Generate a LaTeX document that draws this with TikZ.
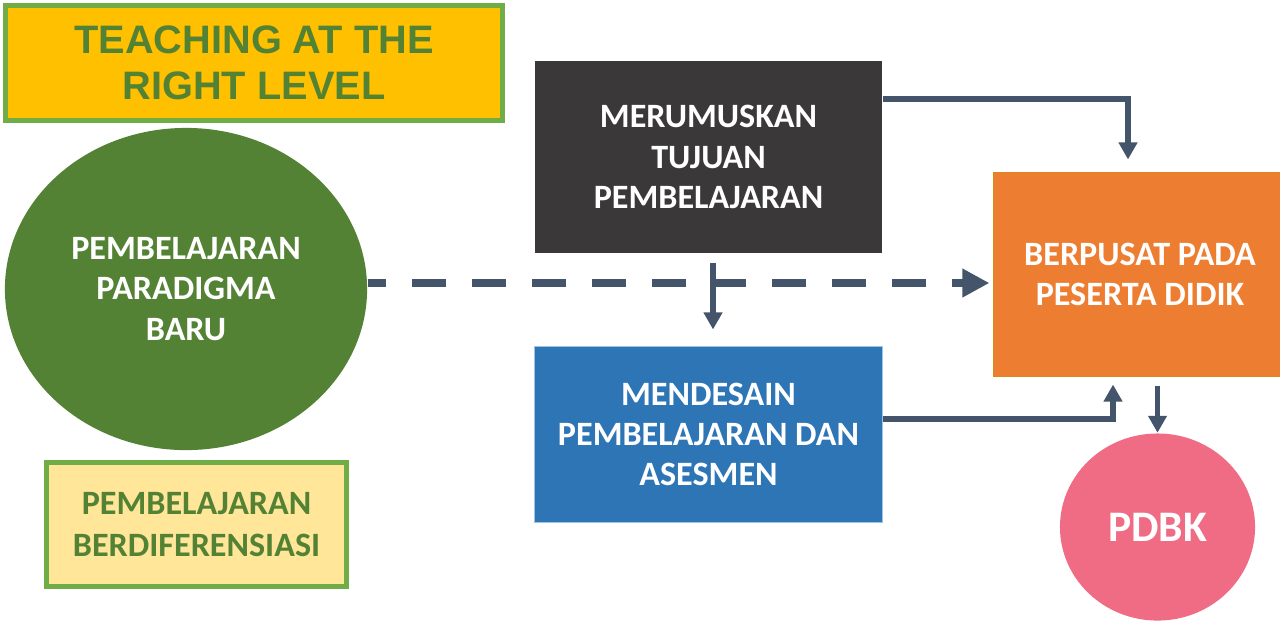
\documentclass[tikz,border=0pt]{standalone}
\usepackage{fontspec}
\setmainfont{Carlito}
\newfontfamily\titlefont{Liberation Sans}
\usepackage[]{xcolor}
\usepackage[]{tikz}
\usetikzlibrary{positioning,shapes.geometric,arrows.meta}
\definecolor{leafgreen}{HTML}{548235}
\definecolor{lightgreen}{HTML}{70AD47}
\definecolor{gold}{HTML}{FFC000}
\definecolor{cream}{HTML}{FFE699}
\definecolor{charcoal}{HTML}{3A3838}
\definecolor{steelblue}{HTML}{2E75B6}
\definecolor{paleblue}{HTML}{9DC3E6}
\definecolor{carrot}{HTML}{ED7D31}
\definecolor{rosepink}{HTML}{F06B84}
\definecolor{slate}{HTML}{44546A}
\tikzset{boxtext/.style={align=center,inner sep=0pt,font=\bfseries\fontsize{9.7}{11.4}\selectfont},
         stepbox/.style={boxtext,rectangle,text=white,minimum width=3.47cm},
         conn/.style={line width=0.055cm,slate,-{Triangle[width=0.18cm,length=0.17cm]}}}

\begin{document}
\begin{tikzpicture}[x=0.01cm,y=-0.01cm] % 1 单位 = 1 像素
            \useasboundingbox (0,0) rectangle (1280,623);
            \node[rectangle,fill=gold,draw=lightgreen,line width=0.05cm,minimum width=4.97cm,minimum height=1.15cm,
                  align=center,text=leafgreen,font=\titlefont\bfseries\fontsize{11.3}{13.1}\selectfont] (title) at (254,63) {TEACHING AT THE\\RIGHT LEVEL};
            \node[boxtext,ellipse,fill=leafgreen,text=white,minimum width=3.62cm,minimum height=3.22cm] (paradigma) at (186,289) {PEMBELAJARAN\\PARADIGMA\\BARU};
            \node[boxtext,rectangle,fill=cream,draw=lightgreen,line width=0.05cm,text=leafgreen,minimum width=3cm,minimum height=1.24cm,
                  font=\bfseries\fontsize{9.7}{12}\selectfont] (diferensiasi) at (196.5,524.5) {PEMBELAJARAN\\BERDIFERENSIASI};
            \node[stepbox,fill=charcoal,minimum height=1.92cm] (tujuan) at (708.5,157) {MERUMUSKAN\\TUJUAN\\PEMBELAJARAN};
            \node[stepbox,fill=steelblue,draw=paleblue,line width=0.01cm,minimum height=1.75cm] (desain) at (708.5,434.5) {MENDESAIN\\PEMBELAJARAN DAN\\ASESMEN};
            \node[stepbox,fill=carrot,draw=carrot!80!black!60!gold,line width=0.01cm,minimum width=2.92cm,minimum height=2.03cm] (berpusat) at (1140,274.5) {BERPUSAT PADA\\PESERTA DIDIK};
            \node[boxtext,ellipse,fill=rosepink,text=white,minimum width=1.95cm,minimum height=1.87cm,
                  font=\bfseries\fontsize{12.4}{14}\selectfont] (pdbk) at (1157.5,527) {PDBK};
            % 连线
            \draw[line width=0.08cm,slate,dash pattern=on 0.34cm off 0.26cm,dash phase=0.16cm,shorten >=0.04cm,
                  -{Triangle[width=0.27cm,length=0.27cm]}] (paradigma.east |- 0,283) -- (berpusat.west |- 0,283);
            \draw[conn,shorten >=0.13cm] (tujuan.east |- 0,99) -| (berpusat.north -| 1128,0);
            \draw[conn,shorten <=0.09cm,shorten >=0.17cm] (tujuan.south -| 713,0) -- (desain.north -| 713,0);
            \draw[conn,shorten >=0.08cm] (desain.east |- 0,419) -| (berpusat.south -| 1113,0);
            \draw[conn,shorten <=0.09cm] (berpusat.south -| pdbk.north) -- (pdbk.north);
        \end{tikzpicture}
\end{document}
